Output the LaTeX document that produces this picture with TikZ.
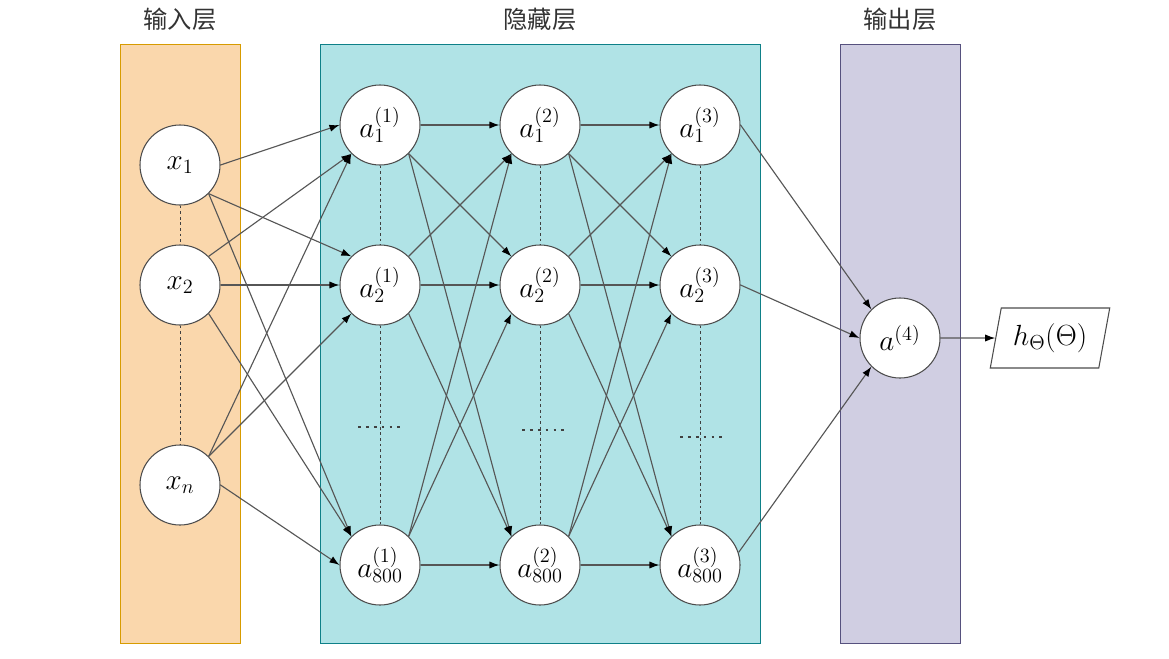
\documentclass[tikz,border=0pt]{standalone}
\usepackage{fontspec}
\newfontfamily\cjk{Noto Sans CJK SC}
\usetikzlibrary{arrows.meta}
\usetikzlibrary{positioning}
\usetikzlibrary{shapes.geometric}

\definecolor{inputfill}{HTML}{FAD7AC}
\definecolor{inputline}{HTML}{D79B00}
\definecolor{hiddenfill}{HTML}{B0E3E6}
\definecolor{hiddenline}{HTML}{0E8088}
\definecolor{outputfill}{HTML}{D0CEE2}
\definecolor{outputline}{HTML}{56517E}
\definecolor{edgegray}{HTML}{565656}

% link two neurons by their rows: same row east-west, else by the diagonal anchors
\newcommand{\linkrow}[4]{%
    \ifnum#2=#4 \draw[conn] (#1.east) -- (#3.west);
    \else\ifnum#2<#4 \draw[conn] (#1.south east) -- (#3.north west);
    \else \draw[conn] (#1.north east) -- (#3.south west);
    \fi\fi}

\begin{document}
\begin{tikzpicture}[
    x=0.025cm, y=-0.025cm,
    neuron/.style={
        draw=black!70, fill=white, circle,
        minimum size=2cm, inner sep=0pt,
        line width=0.75pt, font=\huge
    },
    layertitle/.style={font=\cjk\LARGE, text=black!80},
    conn/.style={draw=edgegray, line width=0.8pt,
        -{Latex[length=2.5mm,width=1.8mm,color=black]}},
    gap/.style={draw=black!75, line width=0.7pt, dash pattern=on 2pt off 2pt},
    hgap/.style={draw=black!75, line width=0.8pt, dash pattern=on 2pt off 3.6pt}
]
\useasboundingbox (0,0) rectangle (1169,658);

% layer boxes
\draw[fill=inputfill, draw=inputline, line width=0.7pt] (120,44) rectangle (240,643);
\draw[fill=hiddenfill, draw=hiddenline, line width=0.7pt] (320,44) rectangle (760,643);
\draw[fill=outputfill, draw=outputline, line width=0.7pt] (840,44) rectangle (960,643);
\node[layertitle] (tin) at (180,19) {输入层};
\node[layertitle] (thid) at (540,19) {隐藏层};
\node[layertitle] (tout) at (900,19) {输出层};

% input layer
\node[neuron] (x1) at (180,165) {$x_1$};
\node[neuron] (x2) at (180,285) {$x_2$};
\node[neuron] (xn) at (180,485) {$x_n$};
\draw[gap] (x1) -- (x2);
\draw[gap] (x2) -- (xn);

% hidden layers
\foreach \l/\cx in {1/380,2/540,3/700} {
    \node[neuron] (a\l-1) at (\cx,125) {$a_1^{(\l)}$};
    \node[neuron] (a\l-2) at (\cx,285) {$a_2^{(\l)}$};
    \node[neuron] (a\l-800) at (\cx,565) {$a_{800}^{(\l)}$};
    \draw[gap] (a\l-1) -- (a\l-2);
    \draw[gap] (a\l-2) -- (a\l-800);
}
\coordinate (d1l) at (358,427);
\coordinate (d1r) at (402,427);
\coordinate (d2l) at (522,430);
\coordinate (d2r) at (566,430);
\coordinate (d3l) at (680,437);
\coordinate (d3r) at (724,437);
\draw[hgap] (d1l) -- (d1r);
\draw[hgap] (d2l) -- (d2r);
\draw[hgap] (d3l) -- (d3r);

% output layer
\node[neuron] (out) at (900,338) {$a^{(4)}$};
\node[draw=black!70, fill=white, trapezium, trapezium left angle=74,
      trapezium right angle=106, trapezium stretches=true,
      minimum width=3cm, minimum height=1.5cm, inner sep=0pt,
      line width=0.75pt, font=\huge] (h) at (1050,338) {$h_\Theta(\Theta)$};

% connections
\foreach \s/\i in {x1/1,x2/2,xn/3}
    \foreach \t/\j in {1/1,2/2,800/3}
        \linkrow{\s}{\i}{a1-\t}{\j};
\foreach \l/\n in {1/2,2/3}
    \foreach \s/\i in {1/1,2/2,800/3}
        \foreach \t/\j in {1/1,2/2,800/3}
            \linkrow{a\l-\s}{\i}{a\n-\t}{\j};
\draw[conn] (a3-1.east) -- (out.north west);
\draw[conn] (a3-2.east) -- (out.west);
\draw[conn] (a3-800.18) -- (out.south west);
\draw[conn] (out.east) -- (h.west);
\end{tikzpicture}
\end{document}
